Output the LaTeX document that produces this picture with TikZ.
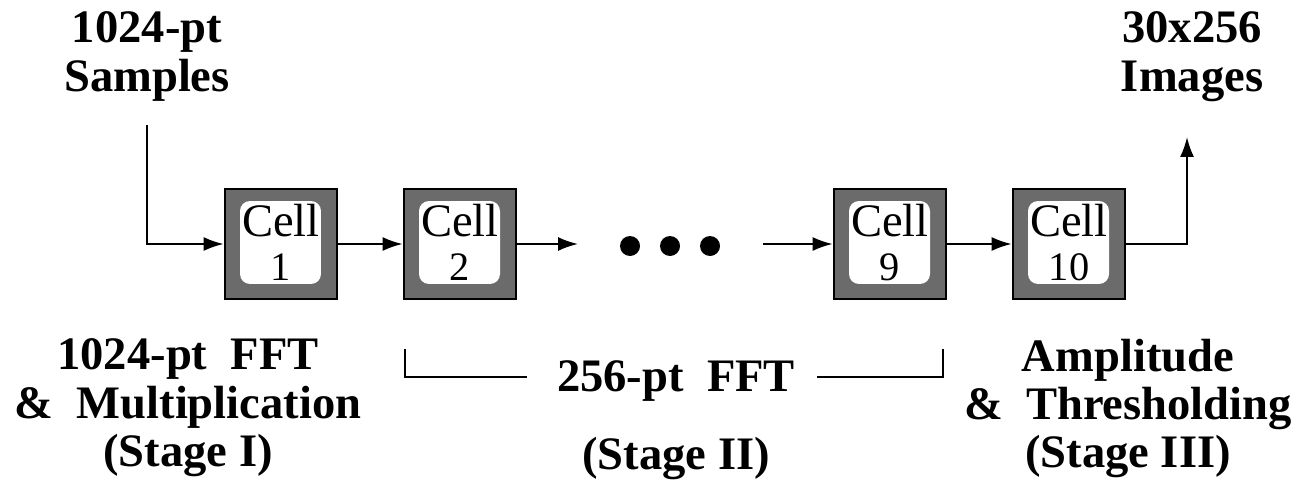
\documentclass[tikz,border=0pt]{standalone}
\usepackage{fontspec}
\setmainfont{Liberation Serif}
\usetikzlibrary{arrows.meta}
\newcommand\numsize{\fontsize{23}{25}\selectfont}

\begin{document}
\begin{tikzpicture}[
  x=0.02cm, y=-0.02cm,
  >={Latex[length=0.4cm,width=0.28cm]},
  line width=1.1pt,
  cellbox/.style={draw, line width=1.6pt, fill=black!58,
    minimum width=2.24cm, minimum height=2.2cm, inner sep=0pt,
    align=center, text depth=2pt, font=\fontsize{26.5}{25}\selectfont,
    path picture={\fill[white, rounded corners=0.2cm]
      ([xshift=0.3cm,yshift=-0.24cm]path picture bounding box.north west) rectangle
      ([xshift=-0.32cm,yshift=0.3cm]path picture bounding box.south east);}},
  lbl/.style={align=center, inner sep=0pt, font=\bfseries\fontsize{26.5}{27.5}\selectfont},
  ellip/.style={circle, fill, inner sep=0pt, minimum size=0.4cm}]
\useasboundingbox (0,0) rectangle (1307,480);

% the ten cells (only 1, 2, 9, 10 shown)
\node[cellbox] (c1) at (281,244) {Cell\\\numsize 1};
\node[cellbox] (c2) at (460,244) {Cell\\\numsize 2};
\node[cellbox] (c9) at (890,244) {Cell\\\numsize 9};
\node[cellbox] (c10) at (1069,244) {Cell\\\numsize 10};
\foreach \i/\x in {1/630, 2/670, 3/710}
  \node[ellip] (d\i) at (\x,246) {};

% data flow
\coordinate (in) at (147,125);
\coordinate (out) at (1187,137);
\coordinate (gapl) at (578,244);
\coordinate (gapr) at (763,244);
\draw[->] (in) |- (c1.west);
\draw[->] (c1) -- (c2);
\draw[->] (c2) -- (gapl);
\draw[->] (gapr) -- (c9);
\draw[->] (c9) -- (c10);
\draw[->] (c10) -| (out);

% labels
\node[lbl, anchor=north] (samples) at (147,11) {1024-pt\\Samples};
\node[lbl, anchor=north] (images) at (1192,11) {30x256\\Images};
\node[lbl, anchor=north] (stage1) at (188,338) {1024-pt\ \ FFT\\\&\ \ Multiplication\\(Stage I)};
\node[lbl, anchor=north] (fft) at (676,360) {256-pt\ \ FFT};
\node[lbl, anchor=north] (stage2) at (676,436) {(Stage II)};
\node[lbl, anchor=north] (stage3) at (1128,338) {Amplitude\\\&\ \ Thresholding\\(Stage III)};

% bracket under stage II
\coordinate (bl) at (405,349);
\coordinate (blc) at (405,377);
\coordinate (ble) at (527,377);
\coordinate (brs) at (817,377);
\coordinate (brc) at (943,377);
\coordinate (br) at (943,349);
\draw[line width=0.8pt] (bl) -- (blc) -- (ble);
\draw[line width=0.8pt] (brs) -- (brc) -- (br);
\end{tikzpicture}
\end{document}
